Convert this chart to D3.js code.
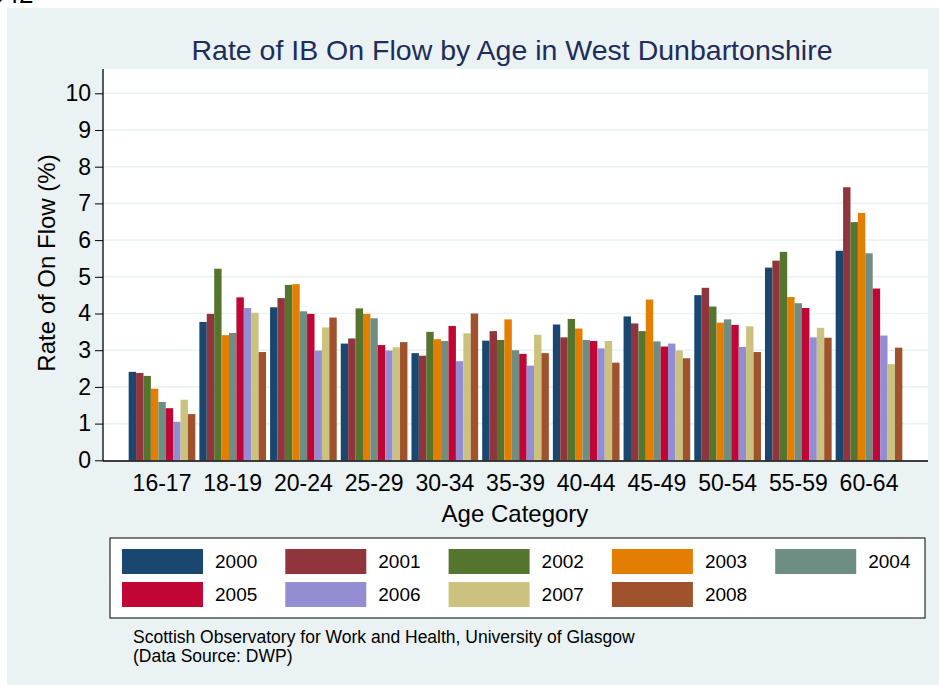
<!DOCTYPE html>
<html>
<head>
<meta charset="utf-8">
<script src="https://cdn.jsdelivr.net/npm/d3@7"></script>
<style>
  body { margin: 0; background: #ffffff; }
  svg { display: block; font-family: "Liberation Sans", Arial, sans-serif; }
</style>
</head>
<body>
<svg id="chart"></svg>
<script>
var screen = {width: 939, height: 685};
var plot = {left: 103, right: 928, top: 69, bottom: 461};

var ages = ["16-17","18-19","20-24","25-29","30-34","35-39","40-44","45-49","50-54","55-59","60-64"];
var years = ["2000","2001","2002","2003","2004","2005","2006","2007","2008"];
var colors = ["#1a476f","#90353b","#55752f","#e37e00","#6e8e84","#c10534","#938dd2","#cac27e","#a0522d"];
var yTicks = [0,1,2,3,4,5,6,7,8,9,10];

// one array per year, values in age order
var r2000 = [2.41, 3.77, 4.17, 3.18, 2.92, 3.26, 3.70, 3.92, 4.50, 5.25, 5.71];
var r2001 = [2.38, 3.99, 4.42, 3.32, 2.85, 3.52, 3.35, 3.73, 4.70, 5.44, 7.44];
var r2002 = [2.30, 5.22, 4.78, 4.14, 3.50, 3.28, 3.85, 3.52, 4.19, 5.68, 6.49];
var r2003 = [1.95, 3.41, 4.80, 3.99, 3.30, 3.84, 3.59, 4.38, 3.75, 4.45, 6.74];
var r2004 = [1.59, 3.47, 4.06, 3.87, 3.25, 3.00, 3.28, 3.24, 3.84, 4.28, 5.64];
var r2005 = [1.42, 4.44, 3.99, 3.14, 3.66, 2.90, 3.25, 3.10, 3.69, 4.15, 4.68];
var r2006 = [1.05, 4.15, 2.99, 2.99, 2.70, 2.58, 3.05, 3.18, 3.09, 3.35, 3.40];
var r2007 = [1.65, 4.02, 3.62, 3.08, 3.46, 3.42, 3.25, 2.99, 3.65, 3.61, 2.62];
var r2008 = [1.26, 2.95, 3.89, 3.22, 4.00, 2.92, 2.66, 2.78, 2.95, 3.34, 3.07];
var series = [r2000, r2001, r2002, r2003, r2004, r2005, r2006, r2007, r2008];

var svg = d3.select("#chart")
    .attr("width", screen.width)
    .attr("height", screen.height);

// stray text cut off at the top edge, as in the reference
svg.append("text")
    .attr("x", -10).attr("y", 3)
    .attr("font-size", 26)
    .attr("fill", "#000")
    .text("942");

svg.append("rect")
    .attr("x", 7).attr("y", 8)
    .attr("width", screen.width - 7).attr("height", screen.height - 8)
    .attr("fill", "#eaf2f3");

svg.append("rect")
    .attr("x", plot.left).attr("y", plot.top)
    .attr("width", plot.right - plot.left).attr("height", plot.bottom - plot.top)
    .attr("fill", "#ffffff");

var xScale = d3.scaleBand()
    .domain(ages)
    .range([plot.left, plot.right])
    .paddingInner(0.057)
    .paddingOuter(0.363);

var xInner = d3.scaleBand()
    .domain(years)
    .range([0, xScale.bandwidth()]);

var yScale = d3.scaleLinear()
    .domain([0, 10])
    .range([460.3, 93.3]);

var cScale = d3.scaleOrdinal().domain(years).range(colors);

// gridlines
svg.append("g")
    .selectAll("line")
    .data(yTicks.slice(1))
    .enter().append("line")
    .attr("x1", plot.left).attr("x2", plot.right)
    .attr("y1", function(d){ return yScale(d) })
    .attr("y2", function(d){ return yScale(d) })
    .attr("stroke", "#eaf2f3")
    .attr("stroke-width", 1.6);

// bars
years.forEach(function(yr, i)
{
    svg.append("g")
        .selectAll("rect")
        .data(series[i])
        .enter().append("rect")
        .attr("x", function(d, j){ return xScale(ages[j]) + xInner(yr) })
        .attr("width", xInner.bandwidth())
        .attr("y", function(d){ return yScale(d) })
        .attr("height", function(d){ return yScale(0) - yScale(d) })
        .attr("fill", cScale(yr));
});

// y axis
var yAxis = d3.axisLeft(yScale).tickValues(yTicks).tickSize(8).tickPadding(4);
var yg = svg.append("g")
    .attr("transform", "translate(" + plot.left + ",0)")
    .call(yAxis);
yg.select(".domain").remove();
yg.selectAll("text").attr("font-size", 23).attr("font-family", "Liberation Sans, Arial").attr("fill", "#000");
yg.selectAll(".tick line").attr("stroke", "#000");

svg.append("line")
    .attr("x1", plot.left).attr("x2", plot.left)
    .attr("y1", plot.top).attr("y2", plot.bottom)
    .attr("stroke", "#000").attr("stroke-width", 1.3);

// x axis
var xAxis = d3.axisBottom(xScale).tickSize(0).tickPadding(14);
var xg = svg.append("g")
    .attr("transform", "translate(0," + plot.bottom + ")")
    .call(xAxis);
xg.select(".domain").remove();
xg.selectAll("text").attr("font-size", 23).attr("font-family", "Liberation Sans, Arial").attr("fill", "#000");

svg.append("line")
    .attr("x1", plot.left).attr("x2", plot.right)
    .attr("y1", plot.bottom).attr("y2", plot.bottom)
    .attr("stroke", "#000").attr("stroke-width", 1.3);

// titles
svg.append("text")
    .attr("x", 512).attr("y", 60)
    .attr("text-anchor", "middle")
    .attr("font-size", 28.5)
    .attr("fill", "#1e2d5a")
    .text("Rate of IB On Flow by Age in West Dunbartonshire");

svg.append("text")
    .attr("x", 515).attr("y", 522)
    .attr("text-anchor", "middle")
    .attr("font-size", 24)
    .attr("fill", "#000")
    .text("Age Category");

svg.append("text")
    .attr("transform", "translate(55,263) rotate(-90)")
    .attr("text-anchor", "middle")
    .attr("font-size", 24)
    .attr("fill", "#000")
    .text("Rate of On Flow (%)");

// legend
var legend = svg.append("g");
legend.append("rect")
    .attr("x", 110).attr("y", 538)
    .attr("width", 815).attr("height", 80)
    .attr("fill", "#ffffff")
    .attr("stroke", "#000")
    .attr("stroke-width", 1);

var items = legend.selectAll("g.item")
    .data(years)
    .enter().append("g")
    .attr("class", "item")
    .attr("transform", function(d, i)
    {
        var col = i % 5, row = Math.floor(i / 5);
        return "translate(" + (122 + col * 163.3) + "," + (549 + row * 33) + ")";
    });

items.append("rect")
    .attr("width", 81).attr("height", 25)
    .attr("fill", function(d){ return cScale(d) });

items.append("text")
    .attr("x", 93).attr("y", 19)
    .attr("font-size", 19)
    .attr("fill", "#000")
    .text(function(d){ return d });

// note
svg.append("text")
    .attr("x", 133).attr("y", 643)
    .attr("font-size", 17.5)
    .attr("fill", "#000")
    .text("Scottish Observatory for Work and Health, University of Glasgow");

svg.append("text")
    .attr("x", 133).attr("y", 662)
    .attr("font-size", 17.5)
    .attr("fill", "#000")
    .text("(Data Source: DWP)");
</script>
</body>
</html>
